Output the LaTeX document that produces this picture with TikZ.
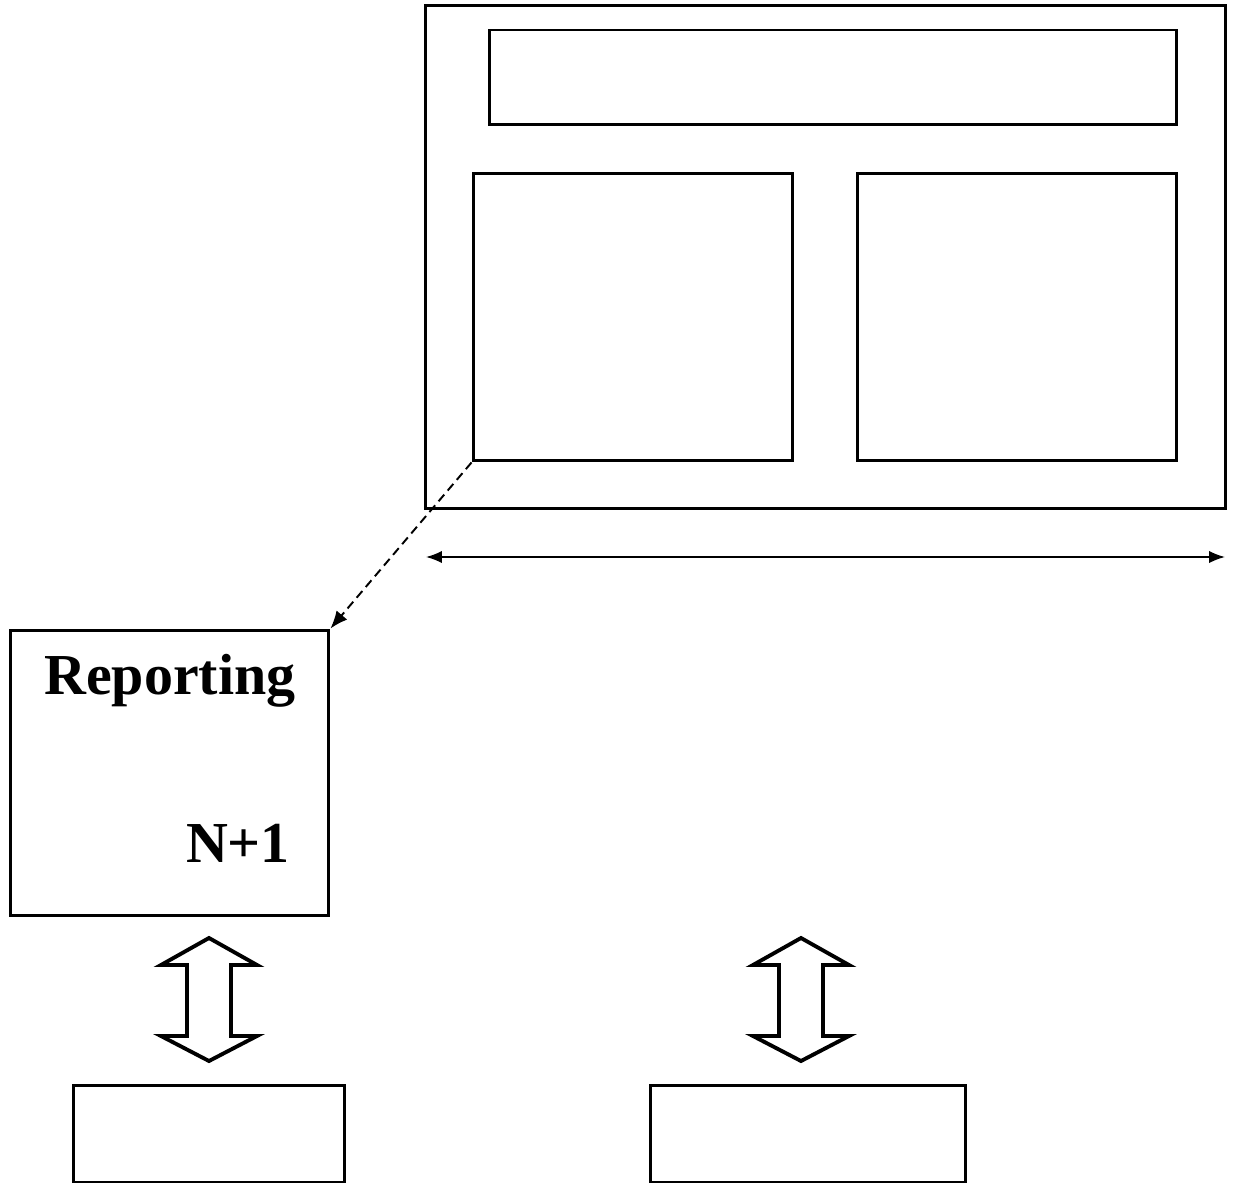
\documentclass[tikz,border=0pt]{standalone}
\usepackage{fontspec}
\setmainfont{Liberation Serif}
\usetikzlibrary{calc, positioning, arrows.meta}

\tikzset{
  box/.style={draw, line width=1.7pt, inner sep=0pt},
  lbl/.style={font=\fontsize{33}{40}\selectfont\bfseries, inner sep=0pt},
  updown/.style={draw, line width=2.2pt, line join=miter}
}

\begin{document}
\begin{tikzpicture}[x=0.02cm, y=-0.02cm]
            \useasboundingbox (0,0) rectangle (1233,1185);
            % screen with its panels
            \node[box, minimum width=16cm, minimum height=10.08cm] (frame) at (825.5,257) {};
            \node[box, minimum width=13.76cm, minimum height=1.9cm] (topbar) at (833,77.5) {};
            \node[box, minimum width=6.4cm, minimum height=5.76cm] (leftpanel) at (633,317) {};
            \node[box, minimum width=6.4cm, minimum height=5.76cm] (rightpanel) at (1017,317) {};
            % width of the screen
            \coordinate (dimL) at (426,557);
            \coordinate (dimR) at (1225,557);
            \draw[{Latex[length=9pt,width=7pt]}-{Latex[length=9pt,width=7pt]}, line width=1pt] (dimL) -- (dimR);
            % reporting box
            \node[box, minimum width=6.38cm, minimum height=5.72cm] (report) at (169.5,773) {};
            \node[lbl] (title) at (170,681) {Reporting};
            \node[lbl] (count) at (238,843) {N+1};
            \draw[dash pattern=on 5pt off 3pt, -{Latex[length=10pt,width=8pt]}, line width=1.1pt] (leftpanel.south west) -- (report.north east);
            % bottom boxes
            \node[box, minimum width=5.44cm, minimum height=1.94cm] (baseL) at (209,1133.5) {};
            \node[box, minimum width=6.32cm, minimum height=1.94cm] (baseR) at (808,1133.5) {};
            % double arrows
            \foreach \c in {209, 801}
                \draw[updown] (\c,938) -- (\c+48,965) -- (\c+22,965) -- (\c+22,1036) -- (\c+48,1036)
                    -- (\c,1061) -- (\c-48,1036) -- (\c-22,1036) -- (\c-22,965) -- (\c-48,965) -- cycle;
        \end{tikzpicture}
\end{document}
